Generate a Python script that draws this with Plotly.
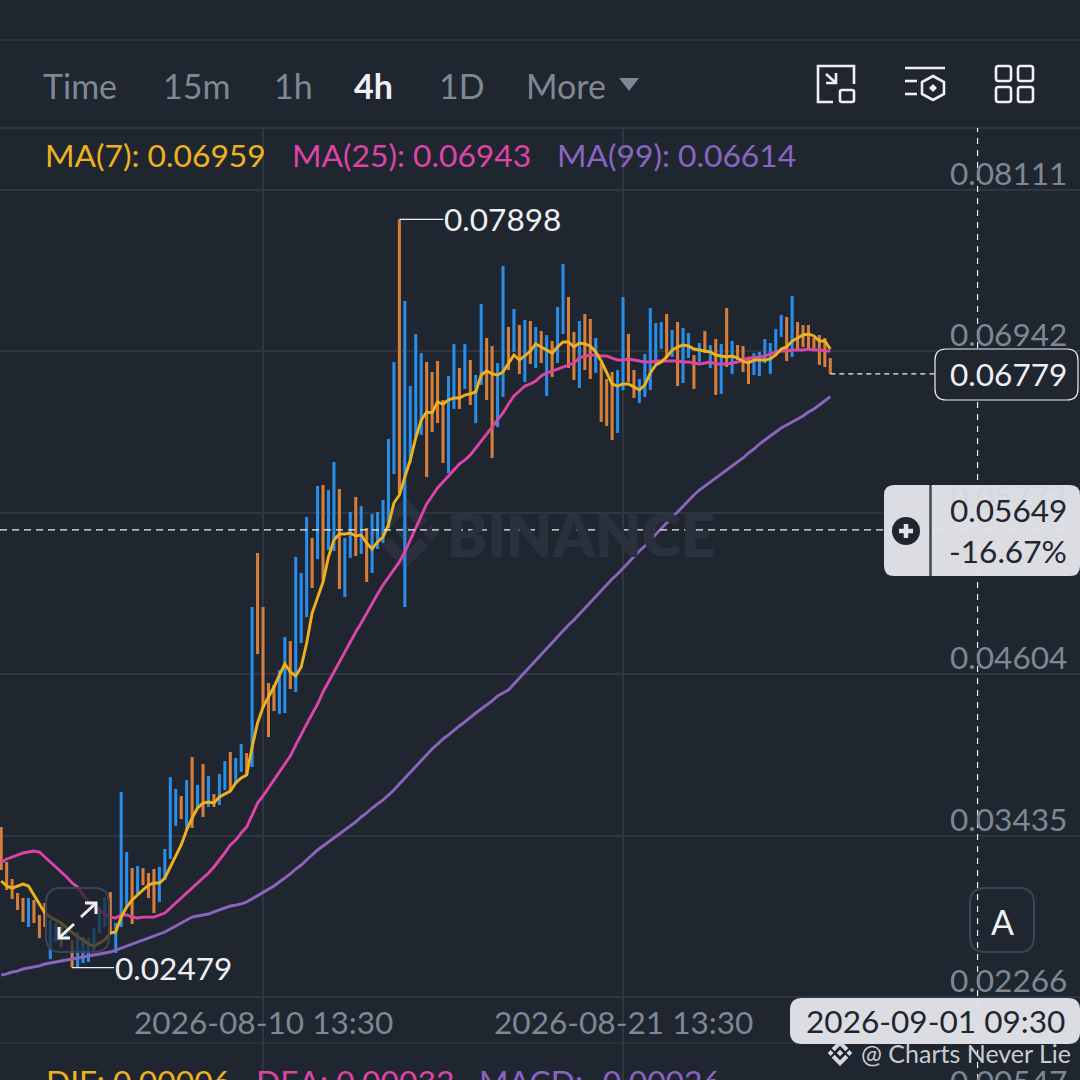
#!/usr/bin/env python3
"""Binance style 4h candle chart with MA lines, rebuilt in Plotly"""

import numpy as np
import pandas as pd
import plotly.graph_objects as go

# candles, oldest first
high = [0.03497, 0.03244, 0.03121, 0.03019, 0.02983, 0.02983, 0.02969, 0.02860, 0.02947, 0.02824,
        0.02802, 0.02802, 0.02751, 0.02679, 0.02737, 0.02701, 0.02693, 0.02766, 0.02918, 0.02990,
        0.03026, 0.02802, 0.03751, 0.03316, 0.03200, 0.03215, 0.03200, 0.03164, 0.03193, 0.03208,
        0.03338, 0.03859, 0.03773, 0.03722, 0.03838, 0.04004, 0.03802, 0.03954, 0.03867, 0.03736,
        0.03881, 0.03975, 0.04041, 0.03997, 0.04098, 0.04033, 0.05091, 0.05482, 0.05091, 0.04540,
        0.04526, 0.04634, 0.04873, 0.04844, 0.05453, 0.05337, 0.05743, 0.05591, 0.05967, 0.05974,
        0.05938, 0.06141, 0.05945, 0.05591, 0.05779, 0.05888, 0.05822, 0.05663, 0.05764, 0.05779,
        0.05866, 0.06308, 0.06865, 0.07898, 0.07307, 0.06691, 0.07068, 0.06930, 0.06865, 0.06793,
        0.06872, 0.06590, 0.06764, 0.06996, 0.06822, 0.06996, 0.06880, 0.06771, 0.07285, 0.07039,
        0.06981, 0.06858, 0.07561, 0.07119, 0.07249, 0.07133, 0.07170, 0.07162, 0.07119, 0.07090,
        0.07061, 0.07017, 0.07264, 0.07575, 0.07336, 0.07083, 0.07162, 0.07213, 0.07177, 0.07039,
        0.06858, 0.06742, 0.06793, 0.06807, 0.07336, 0.07068, 0.06807, 0.06742, 0.06923, 0.07256,
        0.07148, 0.07155, 0.07213, 0.07097, 0.07155, 0.07112, 0.07075, 0.06916, 0.07003, 0.07090,
        0.06988, 0.07032, 0.06996, 0.07256, 0.07017, 0.06988, 0.06981, 0.06894, 0.06930, 0.06938,
        0.07032, 0.07003, 0.07104, 0.07206, 0.07191, 0.07343, 0.07155, 0.07133, 0.07133, 0.07039,
        0.07061, 0.07039, 0.06894]
low = [0.03186, 0.03041, 0.02976, 0.02896, 0.02809, 0.02773, 0.02802, 0.02693, 0.02773, 0.02541,
       0.02664, 0.02628, 0.02679, 0.02479, 0.02483, 0.02512, 0.02520, 0.02585, 0.02730, 0.02773,
       0.02730, 0.02585, 0.02773, 0.02918, 0.02795, 0.03005, 0.03077, 0.02983, 0.02874, 0.02954,
       0.03113, 0.03266, 0.03505, 0.03555, 0.03476, 0.03490, 0.03635, 0.03570, 0.03642, 0.03642,
       0.03657, 0.03765, 0.03751, 0.03816, 0.03896, 0.03874, 0.03932, 0.04750, 0.04359, 0.04149,
       0.04337, 0.04316, 0.04323, 0.04497, 0.04475, 0.04830, 0.05018, 0.05228, 0.05438, 0.05286,
       0.05504, 0.05496, 0.05221, 0.05163, 0.05446, 0.05460, 0.05475, 0.05272, 0.05337, 0.05511,
       0.05554, 0.05663, 0.06054, 0.05916, 0.05091, 0.06134, 0.06322, 0.06337, 0.06032, 0.06358,
       0.06423, 0.06134, 0.06061, 0.06525, 0.06525, 0.06670, 0.06554, 0.06423, 0.06699, 0.06590,
       0.06170, 0.06395, 0.06612, 0.06807, 0.06938, 0.06778, 0.06720, 0.06851, 0.06822, 0.06858,
       0.06619, 0.06757, 0.06858, 0.07068, 0.06822, 0.06735, 0.06677, 0.06807, 0.06742, 0.06786,
       0.06431, 0.06402, 0.06300, 0.06351, 0.06662, 0.06720, 0.06605, 0.06568, 0.06612, 0.06662,
       0.06844, 0.06959, 0.06894, 0.06902, 0.06691, 0.06713, 0.06894, 0.06670, 0.06865, 0.06930,
       0.06822, 0.06626, 0.06634, 0.06829, 0.06779, 0.06880, 0.06793, 0.06706, 0.06771, 0.06764,
       0.06858, 0.06779, 0.06909, 0.07046, 0.06872, 0.06902, 0.06952, 0.06974, 0.06952, 0.06952,
       0.06844, 0.06829, 0.06779]
# 1 = rising candle (blue), 0 = falling candle (orange)
rising = [0, 0, 0, 0, 0, 1, 0, 0, 0, 1, 1, 0, 1, 0, 1, 1, 1, 1, 1, 1, 0, 1, 1, 1, 0, 1, 0, 0, 0, 1,
          1, 1, 1, 0, 1, 0, 1, 0, 1, 0, 1, 1, 0, 1, 1, 0, 1, 0, 0, 0, 0, 1, 1, 0, 1, 1, 1, 0, 1, 0,
          1, 1, 0, 1, 1, 0, 1, 0, 1, 1, 1, 1, 1, 0, 1, 1, 1, 1, 0, 0, 0, 0, 1, 1, 0, 1, 0, 1, 1, 0,
          0, 1, 1, 0, 1, 0, 1, 0, 1, 0, 1, 0, 1, 1, 0, 0, 1, 0, 0, 1, 0, 0, 0, 1, 1, 0, 0, 1, 1, 1,
          1, 1, 0, 1, 0, 1, 1, 0, 1, 0, 1, 0, 1, 0, 1, 0, 0, 0, 1, 1, 1, 1, 1, 1, 0, 1, 0, 0, 0, 0,
          0, 0, 0]

ma7 = [0.03106, 0.03070, 0.03055, 0.03070, 0.03084, 0.03070, 0.03005, 0.02947, 0.02874, 0.02845,
       0.02824, 0.02802, 0.02766, 0.02730, 0.02701, 0.02679, 0.02650, 0.02635, 0.02657, 0.02679,
       0.02730, 0.02737, 0.02845, 0.02918, 0.02969, 0.03005, 0.03041, 0.03077, 0.03092, 0.03092,
       0.03128, 0.03208, 0.03280, 0.03367, 0.03476, 0.03562, 0.03635, 0.03671, 0.03678, 0.03671,
       0.03715, 0.03736, 0.03758, 0.03816, 0.03852, 0.03874, 0.04077, 0.04251, 0.04366, 0.04439,
       0.04511, 0.04598, 0.04678, 0.04620, 0.04591, 0.04656, 0.04830, 0.05047, 0.05156, 0.05272,
       0.05453, 0.05576, 0.05619, 0.05619, 0.05627, 0.05605, 0.05612, 0.05554, 0.05511, 0.05562,
       0.05598, 0.05685, 0.05844, 0.05902, 0.06032, 0.06155, 0.06315, 0.06445, 0.06503, 0.06496,
       0.06576, 0.06561, 0.06590, 0.06605, 0.06605, 0.06626, 0.06634, 0.06648, 0.06771, 0.06800,
       0.06779, 0.06771, 0.06793, 0.06858, 0.06916, 0.06880, 0.06909, 0.06945, 0.06996, 0.06974,
       0.06952, 0.06930, 0.06974, 0.07010, 0.07010, 0.06974, 0.07003, 0.06996, 0.06981, 0.06938,
       0.06872, 0.06786, 0.06706, 0.06691, 0.06706, 0.06706, 0.06684, 0.06662, 0.06699, 0.06786,
       0.06844, 0.06865, 0.06902, 0.06952, 0.06974, 0.06988, 0.06981, 0.06959, 0.06952, 0.06945,
       0.06938, 0.06916, 0.06909, 0.06902, 0.06909, 0.06894, 0.06872, 0.06858, 0.06880, 0.06880,
       0.06880, 0.06887, 0.06916, 0.06959, 0.06974, 0.07017, 0.07039, 0.07061, 0.07068, 0.07054,
       0.07017, 0.07017, 0.06959]
ma25 = [0.03237, 0.03266, 0.03280, 0.03295, 0.03309, 0.03316, 0.03323, 0.03316, 0.03280, 0.03244,
        0.03208, 0.03171, 0.03135, 0.03092, 0.03063, 0.03005, 0.02954, 0.02918, 0.02896, 0.02867,
        0.02845, 0.02838, 0.02860, 0.02860, 0.02845, 0.02838, 0.02845, 0.02845, 0.02845, 0.02860,
        0.02874, 0.02911, 0.02947, 0.02990, 0.03019, 0.03055, 0.03092, 0.03128, 0.03164, 0.03208,
        0.03258, 0.03309, 0.03367, 0.03403, 0.03454, 0.03497, 0.03584, 0.03671, 0.03722, 0.03780,
        0.03838, 0.03888, 0.03946, 0.04012, 0.04091, 0.04171, 0.04243, 0.04316, 0.04388, 0.04475,
        0.04548, 0.04627, 0.04700, 0.04772, 0.04837, 0.04910, 0.04975, 0.05047, 0.05120, 0.05185,
        0.05250, 0.05308, 0.05359, 0.05417, 0.05489, 0.05576, 0.05656, 0.05750, 0.05837, 0.05895,
        0.05953, 0.05996, 0.06040, 0.06083, 0.06127, 0.06155, 0.06192, 0.06242, 0.06293, 0.06344,
        0.06387, 0.06438, 0.06496, 0.06561, 0.06619, 0.06655, 0.06691, 0.06706, 0.06728, 0.06764,
        0.06786, 0.06800, 0.06815, 0.06829, 0.06844, 0.06858, 0.06894, 0.06909, 0.06916, 0.06916,
        0.06909, 0.06909, 0.06894, 0.06880, 0.06880, 0.06887, 0.06880, 0.06872, 0.06865, 0.06865,
        0.06872, 0.06872, 0.06872, 0.06872, 0.06872, 0.06865, 0.06865, 0.06858, 0.06851, 0.06858,
        0.06865, 0.06851, 0.06851, 0.06851, 0.06858, 0.06865, 0.06880, 0.06894, 0.06894, 0.06902,
        0.06909, 0.06923, 0.06938, 0.06945, 0.06945, 0.06952, 0.06952, 0.06952, 0.06959, 0.06952,
        0.06952, 0.06945, 0.06943]
ma99 = [0.02425, 0.02433, 0.02447, 0.02454, 0.02469, 0.02476, 0.02483, 0.02491, 0.02505, 0.02512,
        0.02520, 0.02527, 0.02534, 0.02541, 0.02548, 0.02556, 0.02563, 0.02570, 0.02577, 0.02585,
        0.02592, 0.02606, 0.02621, 0.02635, 0.02650, 0.02664, 0.02679, 0.02693, 0.02708, 0.02722,
        0.02737, 0.02759, 0.02780, 0.02802, 0.02824, 0.02845, 0.02853, 0.02860, 0.02867, 0.02882,
        0.02896, 0.02911, 0.02925, 0.02932, 0.02940, 0.02954, 0.02976, 0.02998, 0.03026, 0.03048,
        0.03070, 0.03099, 0.03128, 0.03157, 0.03193, 0.03222, 0.03258, 0.03295, 0.03331, 0.03360,
        0.03389, 0.03418, 0.03447, 0.03476, 0.03505, 0.03534, 0.03570, 0.03599, 0.03635, 0.03664,
        0.03693, 0.03729, 0.03765, 0.03809, 0.03852, 0.03896, 0.03939, 0.03983, 0.04019, 0.04062,
        0.04098, 0.04135, 0.04164, 0.04200, 0.04229, 0.04258, 0.04294, 0.04323, 0.04352, 0.04381,
        0.04410, 0.04446, 0.04468, 0.04490, 0.04533, 0.04576, 0.04620, 0.04663, 0.04707, 0.04750,
        0.04794, 0.04837, 0.04881, 0.04917, 0.04960, 0.04997, 0.05040, 0.05084, 0.05127, 0.05163,
        0.05207, 0.05250, 0.05294, 0.05330, 0.05373, 0.05417, 0.05453, 0.05496, 0.05533, 0.05576,
        0.05619, 0.05663, 0.05699, 0.05743, 0.05779, 0.05822, 0.05866, 0.05902, 0.05938, 0.05967,
        0.05996, 0.06025, 0.06054, 0.06083, 0.06112, 0.06141, 0.06170, 0.06206, 0.06235, 0.06271,
        0.06300, 0.06329, 0.06358, 0.06387, 0.06409, 0.06431, 0.06452, 0.06474, 0.06503, 0.06525,
        0.06554, 0.06583, 0.06614]

price_ticks = [0.08111, 0.06942, 0.05773, 0.04604, 0.03435, 0.02266]
time_ticks = ["2026-08-10 13:30", "2026-08-21 13:30"]
interval_labels = ["Time", "15m", "1h", "4h", "1D", "More"]
first_candle = "2026-08-02 13:30"
crosshair_time = "2026-09-01 09:30"
crosshair_price = 0.05649
crosshair_change = "-16.67%"
last_price = 0.06779
high_price = 0.07898
low_price = 0.02479

BG = "#1f2630"
GRID = "#2e3641"
BLUE = "#2a8de8"
ORANGE = "#d67f3c"
YELLOW = "#eeb21e"
PINK = "#dc45a6"
PURPLE = "#8a65c0"
GREY = "#7f8793"
LIGHT = "#e1e3e8"
WHITE = "#eef0f3"
FONT = "Lato"
PRICE_SIZE = 31.6
LEGEND_SIZE = 31.8
LEFT_PAD = 3  # annotation box padding around the text

times = pd.date_range(first_candle, periods=len(high), freq="4h")
high_arr = np.array(high)
low_arr = np.array(low)
colors = [BLUE if r else ORANGE for r in rising]


def px(x):
    return x / 1080


def py(y):
    return 1 - y / 1080


def path(points, close=False):
    """Polyline in screen pixels -> svg path in paper coords"""
    d = "M" + " L".join(f"{px(x):.5f},{py(y):.5f}" for x, y in points)
    return d + (" Z" if close else "")


def round_rect(x0, y0, x1, y1, r):
    return (f"M{px(x0 + r):.5f},{py(y0):.5f} L{px(x1 - r):.5f},{py(y0):.5f} "
            f"Q{px(x1):.5f},{py(y0):.5f} {px(x1):.5f},{py(y0 + r):.5f} "
            f"L{px(x1):.5f},{py(y1 - r):.5f} Q{px(x1):.5f},{py(y1):.5f} {px(x1 - r):.5f},{py(y1):.5f} "
            f"L{px(x0 + r):.5f},{py(y1):.5f} Q{px(x0):.5f},{py(y1):.5f} {px(x0):.5f},{py(y1 - r):.5f} "
            f"L{px(x0):.5f},{py(y0 + r):.5f} Q{px(x0):.5f},{py(y0):.5f} {px(x0 + r):.5f},{py(y0):.5f} Z")


def paper_shape(d, fill=None, line=None, width=0, opacity=1):
    return dict(type="path", xref="paper", yref="paper", path=d, fillcolor=fill or "rgba(0,0,0,0)",
                line=dict(color=line or "rgba(0,0,0,0)", width=width), opacity=opacity, layer="above")


def stroke(points, color=WHITE, width=2.6):
    return paper_shape(path(points), line=color, width=width)


def diamond(cx, cy, r):
    return path([(cx, cy - r), (cx + r, cy), (cx, cy + r), (cx - r, cy)], close=True)


def binance_logo(cx, cy, s, color, layer="below"):
    """Five piece logo; s is half its height"""
    k = s / 36
    pieces = [
        diamond(cx, cy, 9 * k), diamond(cx - 26 * k, cy, 8 * k), diamond(cx + 26 * k, cy, 8 * k),
        path([(cx, cy - 36 * k), (cx + 23 * k, cy - 13 * k), (cx + 15 * k, cy - 5 * k), (cx, cy - 20 * k),
              (cx - 15 * k, cy - 5 * k), (cx - 23 * k, cy - 13 * k)], close=True),
        path([(cx, cy + 36 * k), (cx + 23 * k, cy + 13 * k), (cx + 15 * k, cy + 5 * k), (cx, cy + 20 * k),
              (cx - 15 * k, cy + 5 * k), (cx - 23 * k, cy + 13 * k)], close=True),
    ]
    return [dict(paper_shape(p, fill=color), layer=layer) for p in pieces]


def label(text, x, y, color=GREY, size=PRICE_SIZE, anchor="left", weight=None, xref="paper", yref="paper", **kw):
    font = dict(family=FONT, size=size, color=color)
    if weight:
        font["weight"] = weight
    return dict(text=text, x=x, y=y, xref=xref, yref=yref, xanchor=anchor, yanchor="middle",
                showarrow=False, font=font, **kw)


fig = go.Figure()

fig.add_trace(go.Bar(
    x=times, y=high_arr - low_arr, base=low_arr,
    width=4 * 3600 * 1000 * 0.56,
    marker=dict(color=colors, line=dict(width=0)),
    showlegend=False,
))
for values, color in [(ma99, PURPLE), (ma25, PINK), (ma7, YELLOW)]:
    fig.add_trace(go.Scatter(x=times, y=values, mode="lines", line=dict(color=color, width=2.9),
                             showlegend=False))

shapes = []
# panel rules
for y in [40, 128, 1043]:
    shapes.append(dict(type="line", xref="paper", yref="paper", x0=0, x1=1, y0=py(y), y1=py(y),
                       line=dict(color=GRID, width=2 if y == 128 else 1.5), layer="below"))

shapes += binance_logo(405, 533, 36, "#2a313d")

# crosshair and last price guide
shapes.append(dict(type="line", xref="x", yref="paper", x0=crosshair_time, x1=crosshair_time,
                   y0=0, y1=py(128), line=dict(color=WHITE, width=1.2, dash="6px,6px"), layer="above"))
shapes.append(dict(type="line", xref="paper", yref="y", x0=0, x1=1, y0=crosshair_price, y1=crosshair_price,
                   line=dict(color=WHITE, width=1.2, dash="7px,5px"), layer="above"))
shapes.append(dict(type="line", xref="x", yref="y", x0=times[-1], x1=crosshair_time,
                   y0=last_price, y1=last_price, line=dict(color=WHITE, width=1.2, dash="5px,4px"),
                   layer="above"))

# last price box
shapes.append(paper_shape(round_rect(935, 349, 1078, 400, 11), fill=BG, line=WHITE, width=1.2))

# crosshair price box
shapes.append(paper_shape(round_rect(884, 485, 1080, 576, 10), fill=LIGHT, opacity=0.97))
shapes.append(stroke([(930.5, 485), (930.5, 576)], color="#3b424e", width=2.4))
shapes.append(dict(type="circle", xref="paper", yref="paper", x0=px(892), x1=px(920), y0=py(545), y1=py(517),
                   fillcolor=BG, line=dict(width=0), layer="above"))
shapes.append(stroke([(899, 531), (913, 531)], color=LIGHT, width=4.5))
shapes.append(stroke([(906, 524), (906, 538)], color=LIGHT, width=4.5))

# crosshair time box and footer logo
shapes.append(paper_shape(round_rect(790, 998, 1080, 1044, 12), fill=LIGHT, opacity=0.97))
shapes += binance_logo(840, 1053, 13, "#d5d7dc", layer="above")

# expand button
shapes.append(paper_shape(round_rect(46, 888, 109, 952, 15), fill="rgba(31,38,48,0.72)", line="#3c4451", width=2))
shapes.append(stroke([(81, 917), (96, 903)], color=WHITE, width=3))
shapes.append(stroke([(85, 903), (96, 903), (96, 914)], color=WHITE, width=3))
shapes.append(stroke([(59, 938), (74, 924)], color=WHITE, width=3))
shapes.append(stroke([(59, 927), (59, 938), (70, 938)], color=WHITE, width=3))
# auto scale button
shapes.append(paper_shape(round_rect(970, 888, 1034, 952, 15), line="#3c4451", width=2))

# header icons
shapes.append(stroke([(833, 102), (818, 102), (818, 66), (854, 66), (854, 84)]))
shapes.append(paper_shape(round_rect(840, 90, 854, 102, 2), line=WHITE, width=2.6))
shapes.append(stroke([(826, 74), (836, 83)]))
shapes.append(stroke([(826, 83), (836, 83), (836, 73)]))
shapes.append(stroke([(905, 68), (945, 68)]))
shapes.append(stroke([(905, 81), (917, 81)]))
shapes.append(stroke([(905, 94), (917, 94)]))
shapes.append(paper_shape(path([(933, 76), (944, 82), (944, 94), (933, 100), (922, 94), (922, 82)], close=True),
                          line=WHITE, width=2.6))
shapes.append(paper_shape(diamond(933, 88, 4), fill=WHITE))
for x0 in [996, 1018]:
    for y0 in [66, 87]:
        shapes.append(paper_shape(round_rect(x0, y0, x0 + 15, y0 + 15, 2.5), line=WHITE, width=2.6))
# "More" arrow
shapes.append(paper_shape(path([(619, 78), (639, 78), (629, 91)], close=True), fill=GREY))

notes = []
# interval row
for text, x in zip(interval_labels, [44, 164, 275, 355, 440, 527]):
    active = text == "4h"
    notes.append(label(text, px(x - LEFT_PAD), py(85), color=WHITE if active else GREY, size=34,
                       weight=700 if active else None))

# legends
notes.append(label(f"MA(7): {ma7[-1]:.5f}", px(46 - LEFT_PAD), py(155), color=YELLOW, size=LEGEND_SIZE))
notes.append(label(f"MA(25): {ma25[-1]:.5f}", px(293 - LEFT_PAD), py(155), color=PINK, size=LEGEND_SIZE))
notes.append(label(f"MA(99): {ma99[-1]:.5f}", px(558 - LEFT_PAD), py(155), color=PURPLE, size=LEGEND_SIZE))
notes.append(label("DIF: 0.00006", px(47 - LEFT_PAD), py(1081), color=YELLOW, size=LEGEND_SIZE))
notes.append(label("DEA: 0.00032", px(257 - LEFT_PAD), py(1081), color=PINK, size=LEGEND_SIZE))
notes.append(label("MACD: -0.00026", px(480 - LEFT_PAD), py(1081), color=PURPLE, size=LEGEND_SIZE))
notes.append(label("0.00547", px(1066 + LEFT_PAD), py(1081), anchor="right"))

# price axis labels sit just above their grid lines
for v in price_ticks:
    faint = v == 0.05773
    notes.append(label(f"{v:.5f}", px(1066 + LEFT_PAD), v, color="#d6d8dd" if faint else GREY, anchor="right",
                       yref="y", yshift=17))
for t in time_ticks:
    notes.append(label(t, t, py(1022), anchor="center", xref="x"))

# high / low markers
for value, idx in [(high_price, high.index(high_price)), (low_price, low.index(low_price))]:
    offset = 44 if value == high_price else 42
    notes.append(dict(text=f"{value:.5f}", x=times[idx], y=value, xref="x", yref="y", ax=offset, ay=0,
                      xanchor="left", yanchor="middle", showarrow=True, arrowhead=0, arrowwidth=1.4,
                      arrowcolor=WHITE, standoff=0, borderpad=0,
                      font=dict(family=FONT, size=PRICE_SIZE, color=WHITE)))

notes.append(label(f"{last_price:.5f}", px(1066 + LEFT_PAD), last_price, color=WHITE, anchor="right", yref="y"))
notes.append(label(f"{crosshair_price:.5f}", px(1066 + LEFT_PAD), py(510), color="#1f2630", anchor="right"))
notes.append(label(crosshair_change, px(1066 + LEFT_PAD), py(551), color="#1f2630", anchor="right"))
notes.append(label(crosshair_time, px(935), py(1021), color="#1f2630", anchor="center"))
notes.append(label("@ Charts Never Lie", px(1070 + LEFT_PAD), py(1053), color="#c9ccd2", size=25, anchor="right"))
notes.append(label("A", px(1002), py(921), color=WHITE, size=34, anchor="center"))
notes.append(label("BINANCE", px(581), py(534), color="#2a313d", size=60, anchor="center", weight=800))

fig.update_layout(
    width=1080, height=1080,
    margin=dict(l=0, r=0, t=0, b=0),
    paper_bgcolor=BG, plot_bgcolor=BG,
    barmode="overlay",
    showlegend=False,
    shapes=shapes,
    annotations=notes,
    xaxis=dict(type="date", range=["2026-08-02 12:37", "2026-09-04 12:37"], domain=[0, 1],
               tickmode="array", tickvals=time_ticks, showticklabels=False, ticks="",
               showgrid=True, gridcolor=GRID, gridwidth=1.5, zeroline=False, showline=False, fixedrange=True),
    yaxis=dict(range=[0.01665, 0.08560], domain=[0, 1 - 128 / 1080],
               tickmode="array", tickvals=price_ticks, showticklabels=False, ticks="",
               showgrid=True, gridcolor=GRID, gridwidth=1.5, zeroline=False, showline=False, fixedrange=True),
)

# the page's default body margin would push the figure off by 8px
fig.write_html("out.html", config={"displayModeBar": False},
               post_script="document.body.style.margin='0';document.body.style.background='#1f2630';")
